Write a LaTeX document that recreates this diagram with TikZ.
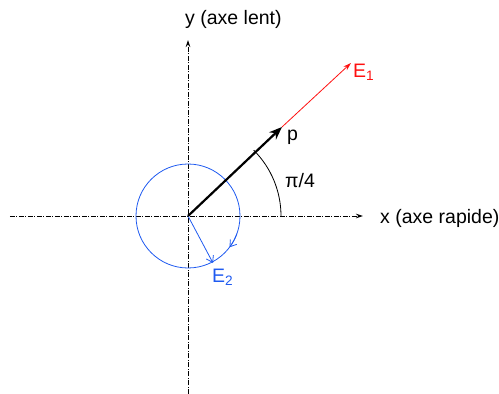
\documentclass[tikz,border=0pt]{standalone}
\usepackage{fontspec}
\setmainfont{Liberation Sans}
\usetikzlibrary{arrows.meta,positioning}
\definecolor{fieldred}{HTML}{FF1010}
\definecolor{fieldblue}{HTML}{1F5AF0}

\begin{document}
\begin{tikzpicture}[x=1pt,y=1pt,
    axis/.style={line width=0.8pt,dash pattern=on 5pt off 1.5pt on 1pt off 1.5pt,-{Stealth[length=7pt,width=4.5pt]}},
    lbl/.style={inner sep=0pt,anchor=base west,font=\fontsize{19.5}{22}\selectfont}]
    \useasboundingbox (-188,-178) rectangle (311,216);
    % axes
    \coordinate (O) at (0,0);
    \coordinate (xmin) at (-178,0);
    \coordinate (xmax) at (175,0);
    \coordinate (ymin) at (0,-178);
    \coordinate (ymax) at (0,176);
    \draw[axis] (xmin)--(xmax);
    \draw[axis] (ymin)--(ymax);
    \node[lbl] (xlab) at (192,-7) {x (axe rapide)};
    \node[lbl] (ylab) at (-3,191) {y (axe lent)};
    % polarisation circle
    \draw[fieldblue,line width=0.8pt] (O) circle (52);
    \draw[fieldblue,line width=0.8pt,-{Straight Barb[length=6pt,width=8pt]}] (-20:52) arc[start angle=-20,end angle=-37,radius=52];
    \coordinate (e2) at (25,-47);
    \draw[fieldblue,line width=0.8pt,-{Straight Barb[length=6pt,width=8pt]}] (O)--(e2);
    \node[lbl,fieldblue] (e2lab) at (24,-66) {E\textsubscript{2}};
    % propagation and fast field
    \coordinate (p) at (94,89);
    \coordinate (e1) at (163,153);
    \draw[fieldred,line width=0.8pt,-{Stealth[length=8pt,width=5pt]}] (p)--(e1);
    \draw[line width=2.2pt,-{Stealth[length=13pt,width=10pt]}] (O)--(p);
    \node[lbl] (plab) at (99,75) {p};
    \node[lbl,fieldred] (e1lab) at (165,139) {E\textsubscript{1}};
    % angle
    \draw[line width=0.8pt] (93,0) arc[start angle=0,end angle=45,radius=93];
    \node[lbl] (anglab) at (97,29) {π/4};
\end{tikzpicture}
\end{document}
